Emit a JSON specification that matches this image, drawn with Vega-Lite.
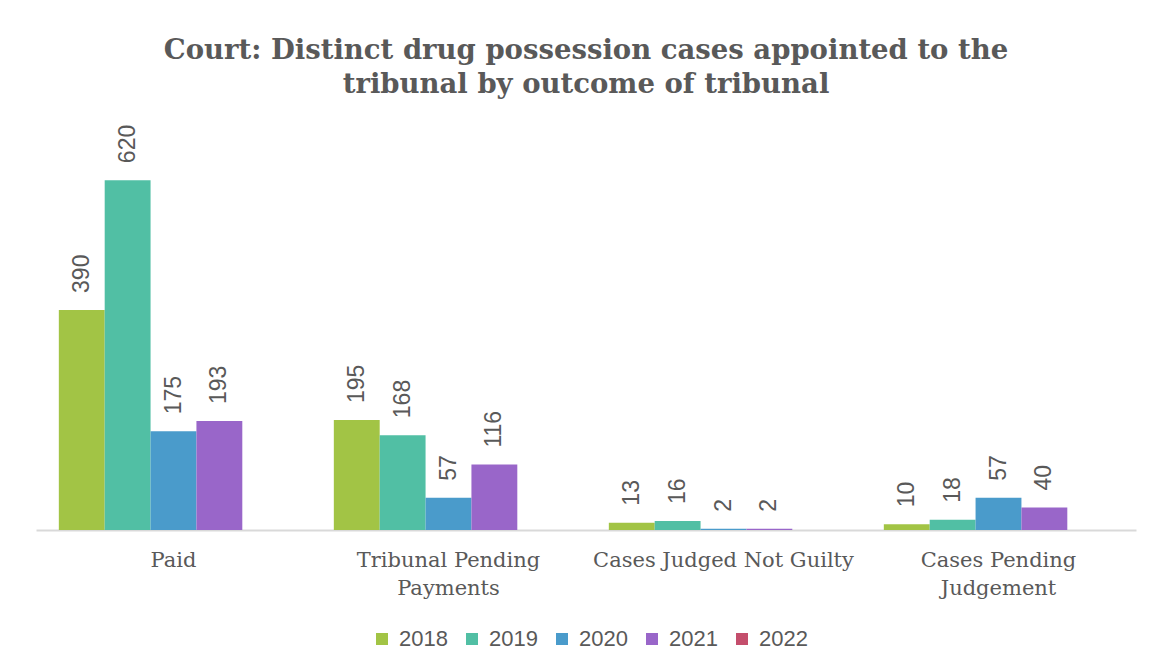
{
  "$schema": "https://vega.github.io/schema/vega-lite/v6.json",
  "width": 1100,
  "height": 395,
  "autosize": {"type": "none"},
  "padding": {"left": 36, "top": 135, "right": 16, "bottom": 139},
  "background": "white",
  "title": {
    "text": ["Court: Distinct drug possession cases appointed to the", "tribunal by outcome of tribunal"],
    "font": "DejaVu Serif",
    "fontWeight": "bold",
    "fontSize": 27.5,
    "color": "#595959",
    "anchor": "middle",
    "lineHeight": 34,
    "baseline": "alphabetic",
    "offset": 4
  },
  "data": {
    "values": [
      {"category": "Paid", "year": "2018", "value": 390},
      {"category": "Paid", "year": "2019", "value": 620},
      {"category": "Paid", "year": "2020", "value": 175},
      {"category": "Paid", "year": "2021", "value": 193},
      {"category": "Tribunal Pending|Payments", "year": "2018", "value": 195},
      {"category": "Tribunal Pending|Payments", "year": "2019", "value": 168},
      {"category": "Tribunal Pending|Payments", "year": "2020", "value": 57},
      {"category": "Tribunal Pending|Payments", "year": "2021", "value": 116},
      {"category": "Cases Judged Not Guilty", "year": "2018", "value": 13},
      {"category": "Cases Judged Not Guilty", "year": "2019", "value": 16},
      {"category": "Cases Judged Not Guilty", "year": "2020", "value": 2},
      {"category": "Cases Judged Not Guilty", "year": "2021", "value": 2},
      {"category": "Cases Pending|Judgement", "year": "2018", "value": 10},
      {"category": "Cases Pending|Judgement", "year": "2019", "value": 18},
      {"category": "Cases Pending|Judgement", "year": "2020", "value": 57},
      {"category": "Cases Pending|Judgement", "year": "2021", "value": 40}
    ]
  },
  "encoding": {
    "x": {
      "field": "category",
      "type": "nominal",
      "sort": null,
      "scale": {"paddingInner": 0.166, "paddingOuter": 0.083},
      "axis": {
        "title": null,
        "labelAngle": 0,
        "labelExpr": "split(datum.value, '|')",
        "labelFont": "DejaVu Serif",
        "labelFontSize": 21,
        "labelColor": "#595959",
        "labelLineHeight": 28,
        "labelPadding": 19,
        "labelBaseline": "top",
        "labelLimit": 0,
        "ticks": false,
        "domainColor": "#d9d9d9",
        "domainWidth": 2,
        "grid": false
      }
    },
    "xOffset": {
      "field": "year",
      "type": "nominal",
      "scale": {"domain": ["2018", "2019", "2020", "2021", "2022"], "paddingInner": 0, "paddingOuter": 0}
    },
    "y": {
      "field": "value",
      "type": "quantitative",
      "scale": {"domain": [0, 700]},
      "axis": null
    }
  },
  "layer": [
    {
      "mark": {"type": "bar"},
      "encoding": {
        "color": {
          "field": "year",
          "type": "nominal",
          "scale": {
            "domain": ["2018", "2019", "2020", "2021", "2022"],
            "range": ["#A2C445", "#51BFA4", "#4A9BCB", "#9966C9", "#C44E6C"]
          },
          "legend": {
            "title": null,
            "orient": "none",
            "direction": "horizontal",
            "legendX": 335,
            "legendY": 493,
            "symbolType": "square",
            "symbolSize": 144,
            "symbolStrokeWidth": 0,
            "labelFont": "Liberation Sans",
            "labelFontSize": 22,
            "labelColor": "#595959",
            "labelOffset": 6,
            "columnPadding": 13
          }
        }
      }
    },
    {
      "mark": {
        "type": "text",
        "angle": 270,
        "align": "left",
        "baseline": "middle",
        "dx": 17,
        "font": "Liberation Sans",
        "fontSize": 23,
        "color": "#595959"
      },
      "encoding": {"text": {"field": "value", "type": "quantitative"}}
    }
  ],
  "config": {"view": {"stroke": null}}
}
